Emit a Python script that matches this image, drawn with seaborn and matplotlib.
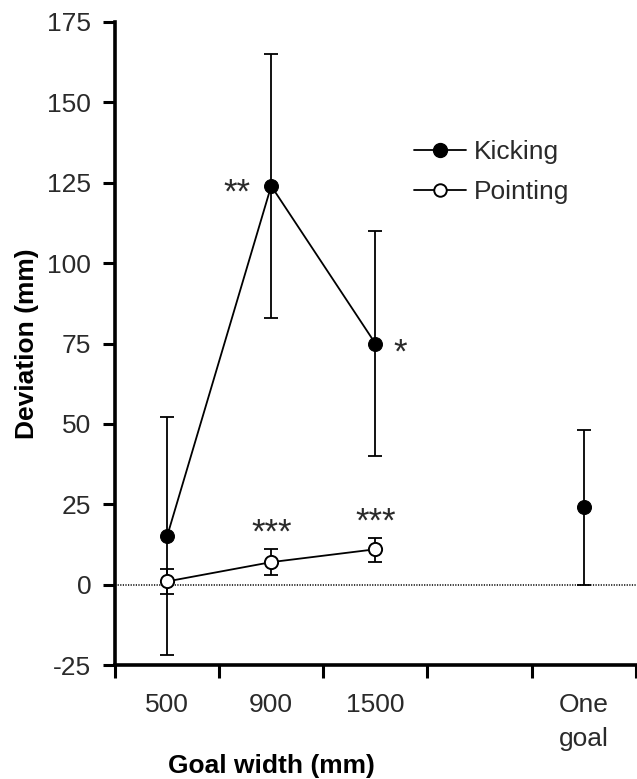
import matplotlib
matplotlib.use("Agg")
import matplotlib.pyplot as plt
from matplotlib.lines import Line2D
import pandas as pd
import seaborn as sns

# category labels along the x axis
categories = ['500', '900', '1500', 'One\ngoal']

# Kicking means and error bar ends (one value per category)
kick_mean = [15, 124, 75, 24]
kick_upper = [52, 165, 110, 48]
kick_lower = [-22, 83, 40, 0]

# Pointing means and error bar ends (no one-goal condition)
point_mean = [1, 7, 11]
point_upper = [5, 11, 14.5]
point_lower = [-3, 3, 7]

# significance marks
kick_stars = ['', '**', '*', '']
point_stars = ['', '***', '***']

###############################################################
# x layout: one slot per category, empty slot before "One goal"
slot = [0, 1, 2, 4]
xpos = [s + 0.5 for s in slot]

sns.set_theme(style='ticks')
plt.rcParams['font.family'] = ['Liberation Sans', 'DejaVu Sans']
plt.rcParams['axes.unicode_minus'] = False
txt = '#2a2a2a'
fs = 19

fig = plt.figure(figsize=(6.37, 7.79), dpi=100)
ax = fig.add_axes([0.1805, 0.1463, 0.8175, 0.8255])

kick = pd.DataFrame({'x': xpos, 'y': kick_mean,
                     'lo': kick_lower, 'hi': kick_upper})
point = pd.DataFrame({'x': xpos[:3], 'y': point_mean,
                      'lo': point_lower, 'hi': point_upper})

# zero line
ax.axhline(0, color='black', lw=1.1, ls=(0, (0.8, 0.9)), zorder=1)

# error bars
for df in (kick, point):
    ax.errorbar(df['x'], df['y'], yerr=[df['y'] - df['lo'], df['hi'] - df['y']],
                fmt='none', ecolor='black', elinewidth=1.3, capsize=5,
                capthick=1.3, zorder=2)

# kicking line (first three goal widths) and lone one-goal point
sns.lineplot(data=kick.iloc[:3], x='x', y='y', ax=ax, color='black', lw=1.3,
             marker='o', markersize=10, markerfacecolor='black',
             markeredgecolor='black', zorder=3)
sns.scatterplot(data=kick.iloc[3:], x='x', y='y', ax=ax, color='black',
                s=100, edgecolor='black', zorder=3)
sns.lineplot(data=point, x='x', y='y', ax=ax, color='black', lw=1.3,
             marker='o', markersize=9.5, markerfacecolor='white',
             markeredgecolor='black', markeredgewidth=1.4, zorder=4)

# stars (asterisk glyph sits high, so drop the baseline)
ax.annotate(kick_stars[1], (kick['x'][1], kick['y'][1]), xytext=(-15, -12),
            textcoords='offset points', ha='right', va='baseline',
            fontsize=25, color=txt)
ax.annotate(kick_stars[2], (kick['x'][2], kick['y'][2]), xytext=(13, -13.5),
            textcoords='offset points', ha='left', va='baseline',
            fontsize=25, color=txt)
for i in (1, 2):
    ax.annotate(point_stars[i], (point['x'][i], point['hi'][i]),
                xytext=(0, 4.5), textcoords='offset points', ha='center',
                va='baseline', fontsize=25, color=txt)

ax.set_xlim(0, 5)
ax.set_ylim(-25, 175)
ax.set_yticks(range(-25, 176, 25))
ax.set_xticks(range(0, 6))
ax.set_xticklabels([])
ax.set_xticks(xpos, minor=True)
ax.set_xticklabels(categories, minor=True, fontsize=fs, color=txt,
                   linespacing=1.55, va='top')
ax.tick_params(axis='x', which='minor', length=0, pad=20)
ax.tick_params(axis='x', which='major', direction='out', length=9, width=2.2,
               color='black')
ax.tick_params(axis='y', direction='out', length=9, width=2.2, color='black',
               labelsize=fs, labelcolor=txt, pad=8)
for s in ('left', 'bottom'):
    ax.spines[s].set_linewidth(2.6)
    ax.spines[s].set_color('black')
sns.despine(ax=ax)

ax.set_xlabel('')
ax.set_ylabel('Deviation (mm)', fontsize=19, fontweight='bold', color='black',
              labelpad=6)
ax.text(xpos[1], -0.157, 'Goal width (mm)', transform=ax.get_xaxis_transform(),
        ha='center', va='center', fontsize=19, fontweight='bold', color='black')

handles = [
    Line2D([], [], color='black', lw=1.3, marker='o', markersize=10,
           markerfacecolor='black', markeredgecolor='black'),
    Line2D([], [], color='black', lw=1.3, marker='o', markersize=9,
           markerfacecolor='white', markeredgecolor='black', markeredgewidth=1.4),
]
leg = ax.legend(handles, ['Kicking', 'Pointing'], loc='upper left',
                bbox_to_anchor=(0.553, 0.833), frameon=False, fontsize=fs,
                handlelength=2.0, handletextpad=0.3, labelspacing=0.6,
                borderaxespad=0)
for t in leg.get_texts():
    t.set_color(txt)

fig.savefig('out.png', dpi=100)
